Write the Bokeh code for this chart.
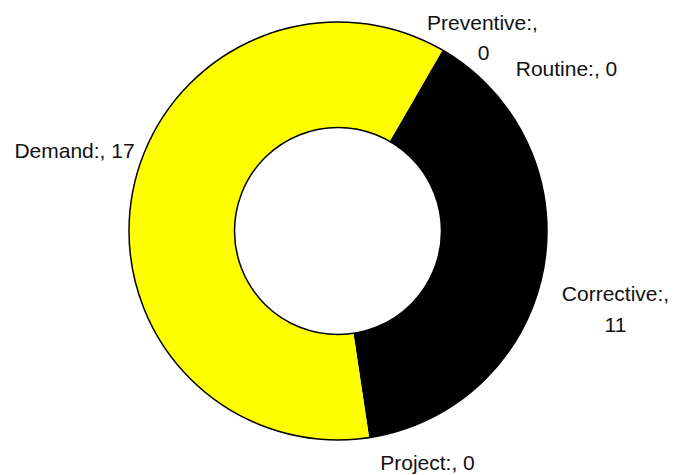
import math
from bokeh.plotting import figure
from bokeh.models import Range1d, ColumnDataSource
from bokeh.core.properties import value
from bokeh.embed import file_html
from bokeh.resources import INLINE

# ---- data ----
categories = ["Preventive", "Routine", "Corrective", "Project", "Demand"]
counts = [0, 0, 11, 0, 17]
colors = ["#4472C4", "#ED7D31", "#000000", "#70AD47", "#FFFF00"]

# ---- layout ----
W, H = 688, 475
cx_px, cy_px = 337.5, 230.5          # donut centre in canvas pixels (from top-left)
R_OUT, R_IN = 209.0, 103.5
START_DEG = 60.0                      # first slice starts 30 deg clockwise from 12 o'clock

p = figure(width=W, height=H, output_backend="svg", toolbar_location=None,
           x_range=Range1d(-cx_px, W - cx_px), y_range=Range1d(-(H - cy_px), cy_px),
           min_border=0)
p.axis.visible = False
p.grid.visible = False
p.outline_line_color = None
p.background_fill_color = "white"
p.border_fill_color = "white"

total = float(sum(counts))
starts, ends, cols = [], [], []
cum = 0.0
for c, col in zip(counts, colors):
    a0 = math.radians(START_DEG - cum / total * 360.0)
    cum += c
    a1 = math.radians(START_DEG - cum / total * 360.0)
    if c > 0:
        starts.append(a0)
        ends.append(a1)
        cols.append(col)

src = ColumnDataSource(dict(x=[0] * len(starts), y=[0] * len(starts),
                            start=starts, end=ends, color=cols))
p.annular_wedge(x="x", y="y", inner_radius=R_IN, outer_radius=R_OUT,
                start_angle="start", end_angle="end", direction="clock",
                fill_color="color", line_color=None, source=src)

# outlines
p.circle(x=[0], y=[0], radius=R_OUT, fill_color=None, line_color="black", line_width=1.5)
p.circle(x=[0], y=[0], radius=R_IN, fill_color=None, line_color="black", line_width=1.5)

# ---- labels (positions in canvas pixels) ----
label_lines = [
    ("Preventive:,", 482, 22),
    (str(counts[0]), 483, 52),
    ("Routine:, " + str(counts[1]), 566, 68),
    ("Corrective:,", 615, 293),
    (str(counts[2]), 615, 324),
    ("Project:, " + str(counts[3]), 427, 462),
    ("Demand:, " + str(counts[4]), 74, 150),
]
lx = [t[1] - cx_px for t in label_lines]
ly = [cy_px - t[2] for t in label_lines]
lt = [t[0] for t in label_lines]
p.text(x=lx, y=ly, text=lt, text_font=value("Liberation Sans"),
       text_font_size="21px", text_align="center", text_baseline="middle",
       text_color="#111111")

open("out.html", "w").write(file_html(p, INLINE))
